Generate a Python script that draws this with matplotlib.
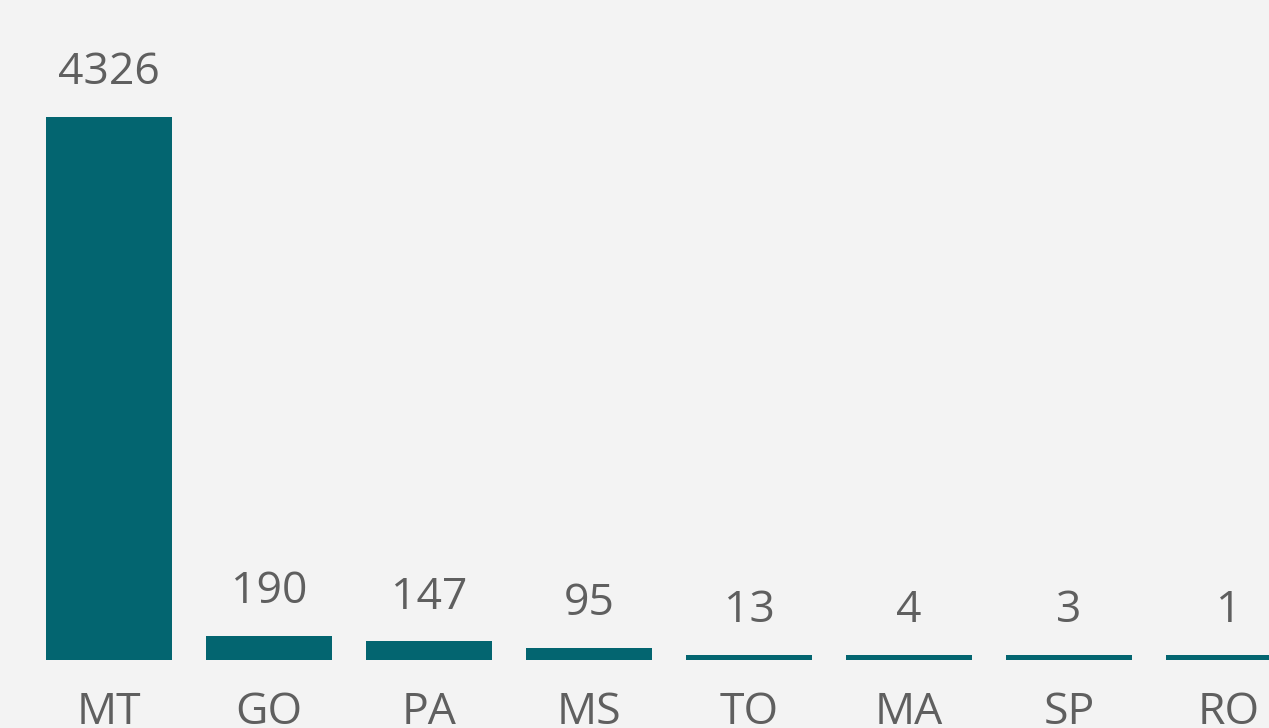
import matplotlib
matplotlib.use("Agg")
import matplotlib.pyplot as plt

states = ["MT", "GO", "PA", "MS", "TO", "MA", "SP", "RO"]
counts = [4326, 190, 147, 95, 13, 4, 3, 1]

bar_color = "#036570"
text_color = "#5f5f5f"
bg = "#f3f3f3"

plt.rcParams["font.family"] = ["Open Sans", "DejaVu Sans"]

fig = plt.figure(figsize=(12.69, 7.28), dpi=100, facecolor=bg)
bottom_px = 659.5
ax = fig.add_axes([0, (728 - bottom_px) / 728, 1, bottom_px / 728])
ax.set_facecolor(bg)

ymax = 4326 * bottom_px / 542.5
ax.set_xlim(-0.681, 7.25)
ax.set_ylim(0, ymax)

# tiny bars still get a visible sliver (about 4 px), like the original tool
floor = ymax * 4.5 / bottom_px

x = list(range(len(states)))
ax.bar(x, counts, width=0.7875, color=bar_color, linewidth=0)
ax.bar(x, [floor] * len(x), width=0.7875, color=bar_color, linewidth=0)

for xi, v in zip(x, counts):
    ax.annotate(str(v), (xi, max(v, floor)),
                xytext=(0, 15.5), textcoords="offset points",
                ha="center", va="bottom", fontsize=32, color=text_color,
                annotation_clip=False)

ax.set_xticks(x)
ax.set_xticklabels(states, fontsize=32, color=text_color)
ax.tick_params(axis="x", length=0, pad=22)
ax.set_yticks([])
for s in ax.spines.values():
    s.set_visible(False)

fig.savefig("out.png", dpi=100, facecolor=bg)
